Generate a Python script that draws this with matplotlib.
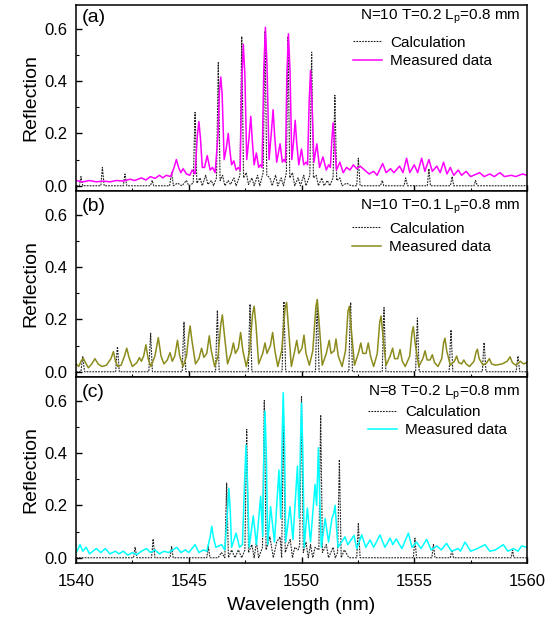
import matplotlib
matplotlib.use("Agg")
import matplotlib.pyplot as plt
from matplotlib.ticker import MultipleLocator, FormatStrFormatter

plt.rcParams['font.family'] = ['Liberation Sans', 'DejaVu Sans']
plt.rcParams['mathtext.fontset'] = 'custom'
plt.rcParams['mathtext.rm'] = 'Liberation Sans'
plt.rcParams['mathtext.it'] = 'Liberation Sans'

# ---------------- data ----------------
# Panel (a): N=10 T=0.2
a_meas_wl = [1540.0, 1540.3, 1540.6, 1540.9, 1541.2, 1541.5, 1541.8, 1542.1, 1542.4, 1542.6, 1542.9, 1543.1,
             1543.3, 1543.5, 1543.7, 1543.85, 1544.0, 1544.2, 1544.35, 1544.45, 1544.55, 1544.65, 1544.75,
             1544.9, 1545.05, 1545.15, 1545.28, 1545.38, 1545.45, 1545.52, 1545.6, 1545.7, 1545.82, 1545.95,
             1546.05, 1546.17, 1546.3, 1546.36, 1546.42, 1546.48, 1546.57, 1546.66, 1546.75, 1546.83, 1546.9,
             1547.0, 1547.1, 1547.2, 1547.28, 1547.35, 1547.42, 1547.49, 1547.57, 1547.67, 1547.75, 1547.82,
             1547.9, 1548.0, 1548.1, 1548.18, 1548.25, 1548.33, 1548.4, 1548.47, 1548.56, 1548.66, 1548.74,
             1548.81, 1548.9, 1549.05, 1549.15, 1549.22, 1549.29, 1549.35, 1549.42, 1549.49, 1549.57, 1549.65,
             1549.72, 1549.79, 1549.88, 1550.0, 1550.1, 1550.2, 1550.27, 1550.34, 1550.4, 1550.46, 1550.55,
             1550.68, 1550.8, 1550.95, 1551.1, 1551.2, 1551.28, 1551.35, 1551.4, 1551.46, 1551.55, 1551.7,
             1551.85, 1552.0, 1552.15, 1552.3, 1552.45, 1552.6, 1552.8, 1553.0, 1553.2, 1553.35, 1553.6,
             1553.75, 1553.95, 1554.1, 1554.35, 1554.5, 1554.66, 1554.8, 1555.0, 1555.15, 1555.33, 1555.47,
             1555.65, 1555.8, 1556.0, 1556.15, 1556.3, 1556.45, 1556.6, 1556.75, 1556.95, 1557.1, 1557.3,
             1557.5, 1557.9, 1558.1, 1558.35, 1558.55, 1558.8, 1559.0, 1559.3, 1559.5, 1559.8, 1560.0]
a_meas_R = [0.02, 0.015, 0.02, 0.015, 0.018, 0.015, 0.02, 0.018, 0.025, 0.02, 0.03, 0.022,
            0.035, 0.028, 0.04, 0.03, 0.04, 0.035, 0.07, 0.10, 0.07, 0.05, 0.065,
            0.045, 0.04, 0.06, 0.045, 0.19, 0.245, 0.18, 0.07, 0.07, 0.115, 0.06,
            0.07, 0.05, 0.20, 0.36, 0.415, 0.35, 0.10, 0.14, 0.20, 0.13, 0.08,
            0.095, 0.06, 0.07, 0.06, 0.40, 0.54, 0.42, 0.10, 0.18, 0.265, 0.17,
            0.08, 0.125, 0.07, 0.08, 0.07, 0.45, 0.605, 0.46, 0.10, 0.20, 0.29,
            0.19, 0.09, 0.16, 0.09, 0.10, 0.09, 0.42, 0.58, 0.44, 0.10, 0.17,
            0.25, 0.16, 0.08, 0.14, 0.08, 0.09, 0.08, 0.32, 0.44, 0.33, 0.09,
            0.16, 0.07, 0.11, 0.06, 0.08, 0.07, 0.18, 0.24, 0.17, 0.06, 0.09,
            0.05, 0.07, 0.06, 0.08, 0.065, 0.075, 0.06, 0.045, 0.055, 0.04, 0.085,
            0.05, 0.065, 0.05, 0.075, 0.05, 0.105, 0.05, 0.08, 0.05, 0.105, 0.055,
            0.10, 0.055, 0.075, 0.05, 0.09, 0.045, 0.07, 0.04, 0.06, 0.04, 0.055,
            0.035, 0.05, 0.035, 0.045, 0.035, 0.05, 0.035, 0.04, 0.035, 0.045, 0.04]

a_calc_wl = [1540.0, 1540.15, 1540.22, 1540.3, 1541.1, 1541.17, 1541.25, 1542.1, 1542.17, 1542.25,
             1543.3, 1543.38, 1543.45, 1544.15, 1544.24, 1544.32, 1544.5, 1544.7, 1544.9, 1545.0,
             1545.2, 1545.28, 1545.36, 1545.5, 1545.6, 1545.75, 1545.85, 1546.0, 1546.1, 1546.23,
             1546.31, 1546.39, 1546.5, 1546.6, 1546.75, 1546.85, 1547.0, 1547.1, 1547.27, 1547.35,
             1547.43, 1547.55, 1547.65, 1547.8, 1547.9, 1548.05, 1548.15, 1548.3, 1548.38, 1548.46,
             1548.6, 1548.7, 1548.85, 1548.95, 1549.1, 1549.2, 1549.33, 1549.4, 1549.48, 1549.6,
             1549.7, 1549.85, 1549.95, 1550.1, 1550.2, 1550.37, 1550.45, 1550.53, 1550.65, 1550.75,
             1550.9, 1551.0, 1551.15, 1551.25, 1551.4, 1551.48, 1551.56, 1551.7, 1551.8, 1552.0,
             1552.2, 1552.45, 1552.52, 1552.6, 1553.5, 1553.58, 1553.65, 1554.55, 1554.62, 1554.7,
             1555.58, 1555.65, 1555.72, 1556.6, 1556.68, 1556.75, 1557.65, 1557.72, 1557.8, 1560.0]
a_calc_R = [0.0, 0.0, 0.035, 0.0, 0.0, 0.07, 0.0, 0.0, 0.045, 0.0,
            0.0, 0.02, 0.0, 0.0, 0.05, 0.0, 0.01, 0.0, 0.02, 0.0,
            0.01, 0.28, 0.01, 0.03, 0.0, 0.04, 0.005, 0.02, 0.0, 0.03,
            0.47, 0.02, 0.04, 0.0, 0.02, 0.005, 0.03, 0.0, 0.04, 0.57,
            0.03, 0.05, 0.005, 0.03, 0.0, 0.04, 0.0, 0.05, 0.59, 0.04,
            0.03, 0.0, 0.04, 0.0, 0.03, 0.0, 0.05, 0.57, 0.03, 0.05,
            0.0, 0.03, 0.0, 0.04, 0.0, 0.04, 0.51, 0.03, 0.04, 0.0,
            0.03, 0.0, 0.02, 0.0, 0.03, 0.345, 0.02, 0.03, 0.0, 0.01,
            0.0, 0.0, 0.105, 0.0, 0.0, 0.02, 0.0, 0.0, 0.03, 0.0,
            0.0, 0.065, 0.0, 0.0, 0.035, 0.0, 0.0, 0.02, 0.0, 0.0]

# Panel (b): N=10 T=0.1
b_meas_wl = [1540.0, 1540.12, 1540.22, 1540.32, 1540.42, 1540.55, 1540.7, 1540.84, 1540.98, 1541.15,
             1541.35, 1541.55, 1541.66, 1541.75, 1541.85, 1542.0, 1542.15, 1542.25, 1542.35, 1542.5,
             1542.7, 1542.81, 1542.9, 1543.0, 1543.1, 1543.2, 1543.32, 1543.5, 1543.65, 1543.77,
             1543.9, 1544.05, 1544.17, 1544.27, 1544.38, 1544.5, 1544.6, 1544.75, 1544.9, 1545.0,
             1545.06, 1545.14, 1545.3, 1545.45, 1545.57, 1545.67, 1545.8, 1545.91, 1546.0, 1546.15,
             1546.3, 1546.42, 1546.49, 1546.57, 1546.72, 1546.88, 1546.98, 1547.07, 1547.2, 1547.3,
             1547.4, 1547.55, 1547.7, 1547.83, 1547.9, 1547.98, 1548.1, 1548.28, 1548.38, 1548.47,
             1548.62, 1548.72, 1548.82, 1548.95, 1549.12, 1549.27, 1549.34, 1549.42, 1549.55, 1549.7,
             1549.79, 1549.88, 1550.02, 1550.11, 1550.2, 1550.35, 1550.5, 1550.64, 1550.7, 1550.77,
             1550.92, 1551.1, 1551.23, 1551.31, 1551.45, 1551.53, 1551.63, 1551.8, 1551.95, 1552.06,
             1552.12, 1552.2, 1552.35, 1552.52, 1552.63, 1552.72, 1552.86, 1552.96, 1553.06, 1553.2,
             1553.36, 1553.47, 1553.53, 1553.61, 1553.75, 1553.93, 1554.04, 1554.13, 1554.27, 1554.37,
             1554.47, 1554.6, 1554.8, 1554.9, 1554.96, 1555.04, 1555.2, 1555.38, 1555.48, 1555.57,
             1555.7, 1555.8, 1555.9, 1556.05, 1556.22, 1556.3, 1556.36, 1556.44, 1556.6, 1556.78,
             1556.88, 1556.97, 1557.1, 1557.2, 1557.3, 1557.45, 1557.65, 1557.74, 1557.8, 1557.88,
             1558.05, 1558.22, 1558.33, 1558.43, 1558.6, 1558.9, 1559.12, 1559.25, 1559.35, 1559.5,
             1559.7, 1559.85, 1560.0]
b_meas_R = [0.03, 0.02, 0.04, 0.052, 0.035, 0.015, 0.03, 0.05, 0.03, 0.02,
            0.025, 0.05, 0.077, 0.04, 0.02, 0.025, 0.06, 0.09, 0.055, 0.02,
            0.035, 0.054, 0.04, 0.06, 0.103, 0.05, 0.02, 0.06, 0.13, 0.06,
            0.03, 0.045, 0.073, 0.04, 0.06, 0.12, 0.06, 0.02, 0.06, 0.14,
            0.175, 0.12, 0.03, 0.05, 0.09, 0.055, 0.07, 0.137, 0.08, 0.02,
            0.06, 0.18, 0.217, 0.15, 0.03, 0.07, 0.11, 0.07, 0.09, 0.15,
            0.08, 0.02, 0.08, 0.22, 0.25, 0.18, 0.03, 0.07, 0.11, 0.07,
            0.10, 0.15, 0.08, 0.02, 0.08, 0.24, 0.265, 0.17, 0.02, 0.08,
            0.12, 0.07, 0.09, 0.14, 0.07, 0.025, 0.08, 0.25, 0.275, 0.20,
            0.025, 0.07, 0.12, 0.07, 0.08, 0.125, 0.06, 0.02, 0.08, 0.23,
            0.25, 0.17, 0.025, 0.07, 0.11, 0.07, 0.07, 0.11, 0.06, 0.02,
            0.07, 0.19, 0.213, 0.14, 0.025, 0.06, 0.09, 0.05, 0.05, 0.085,
            0.04, 0.02, 0.06, 0.15, 0.172, 0.11, 0.02, 0.05, 0.08, 0.045,
            0.045, 0.065, 0.035, 0.02, 0.05, 0.11, 0.128, 0.08, 0.025, 0.04,
            0.06, 0.035, 0.03, 0.045, 0.03, 0.02, 0.04, 0.075, 0.086, 0.05,
            0.025, 0.035, 0.05, 0.03, 0.025, 0.03, 0.04, 0.057, 0.035, 0.025,
            0.04, 0.03, 0.035]

b_calc_wl = [1540.0, 1540.22, 1540.27, 1540.3, 1540.33, 1540.38,
             1541.76, 1541.81, 1541.84, 1541.87, 1541.92,
             1543.23, 1543.28, 1543.31, 1543.34, 1543.39,
             1544.71, 1544.76, 1544.79, 1544.82, 1544.87,
             1546.19, 1546.24, 1546.27, 1546.3, 1546.35,
             1547.64, 1547.69, 1547.72, 1547.75, 1547.8,
             1549.14, 1549.19, 1549.22, 1549.25, 1549.3,
             1550.62, 1550.67, 1550.7, 1550.73, 1550.78,
             1552.1, 1552.15, 1552.18, 1552.21, 1552.26,
             1553.58, 1553.63, 1553.66, 1553.69, 1553.74,
             1555.06, 1555.11, 1555.14, 1555.17, 1555.22,
             1556.55, 1556.6, 1556.63, 1556.66, 1556.71,
             1558.02, 1558.07, 1558.1, 1558.13, 1558.18,
             1559.52, 1559.57, 1559.6, 1559.63, 1559.68, 1560.0]
b_calc_R = [0.0, 0.0, 0.04, 0.058, 0.035, 0.0,
            0.0, 0.07, 0.096, 0.06, 0.0,
            0.0, 0.10, 0.147, 0.09, 0.0,
            0.0, 0.13, 0.19, 0.11, 0.0,
            0.0, 0.16, 0.235, 0.14, 0.0,
            0.0, 0.18, 0.258, 0.15, 0.0,
            0.0, 0.19, 0.268, 0.16, 0.0,
            0.0, 0.19, 0.275, 0.16, 0.0,
            0.0, 0.19, 0.265, 0.16, 0.0,
            0.0, 0.17, 0.245, 0.15, 0.0,
            0.0, 0.14, 0.205, 0.12, 0.0,
            0.0, 0.11, 0.16, 0.10, 0.0,
            0.0, 0.08, 0.112, 0.07, 0.0,
            0.0, 0.04, 0.06, 0.035, 0.0, 0.0]

# Panel (c): N=8 T=0.2
c_meas_wl = [1540.0, 1540.18, 1540.3, 1540.45, 1540.6, 1540.9, 1541.1, 1541.3, 1541.5, 1541.75, 1541.9,
             1542.1, 1542.3, 1542.5, 1542.7, 1542.9, 1543.13, 1543.3, 1543.5, 1543.7, 1543.9, 1544.1,
             1544.3, 1544.47, 1544.65, 1544.85, 1545.0, 1545.28, 1545.45, 1545.65, 1545.8, 1545.95,
             1546.02, 1546.09, 1546.2, 1546.46, 1546.6, 1546.72, 1546.78, 1546.84, 1546.9, 1547.1,
             1547.25, 1547.38, 1547.48, 1547.54, 1547.6, 1547.68, 1547.86, 1548.0, 1548.19, 1548.28,
             1548.33, 1548.38, 1548.44, 1548.5, 1548.63, 1548.8, 1549.0, 1549.08, 1549.14, 1549.19,
             1549.25, 1549.3, 1549.49, 1549.62, 1549.82, 1549.9, 1549.95, 1550.0, 1550.06, 1550.12,
             1550.26, 1550.4, 1550.6, 1550.67, 1550.75, 1550.8, 1550.88, 1551.05, 1551.2, 1551.35,
             1551.43, 1551.49, 1551.55, 1551.62, 1551.93, 1552.05, 1552.33, 1552.45, 1552.67, 1552.85,
             1553.04, 1553.2, 1553.48, 1553.7, 1553.93, 1554.05, 1554.2, 1554.45, 1554.74, 1554.9,
             1555.1, 1555.3, 1555.55, 1555.75, 1556.0, 1556.2, 1556.43, 1556.65, 1556.95, 1557.05,
             1557.25, 1557.5, 1557.8, 1558.14, 1558.35, 1558.6, 1558.95, 1559.15, 1559.4, 1559.6,
             1559.76, 1560.0]
c_meas_R = [0.018, 0.05, 0.025, 0.04, 0.015, 0.035, 0.02, 0.035, 0.015, 0.025, 0.015,
            0.025, 0.01, 0.02, 0.012, 0.025, 0.035, 0.02, 0.03, 0.015, 0.025, 0.02,
            0.03, 0.04, 0.02, 0.03, 0.02, 0.05, 0.02, 0.03, 0.025, 0.08,
            0.12, 0.08, 0.04, 0.05, 0.03, 0.18, 0.265, 0.18, 0.04, 0.094,
            0.04, 0.05, 0.30, 0.43, 0.30, 0.04, 0.16, 0.05, 0.235, 0.08,
            0.40, 0.56, 0.40, 0.05, 0.195, 0.06, 0.335, 0.15, 0.45, 0.63,
            0.42, 0.06, 0.195, 0.07, 0.35, 0.15, 0.42, 0.59, 0.40, 0.04,
            0.19, 0.06, 0.28, 0.20, 0.42, 0.25, 0.04, 0.15, 0.06, 0.15,
            0.17, 0.20, 0.12, 0.04, 0.08, 0.05, 0.085, 0.035, 0.087, 0.04,
            0.068, 0.04, 0.087, 0.04, 0.075, 0.05, 0.072, 0.035, 0.094, 0.04,
            0.06, 0.035, 0.07, 0.03, 0.045, 0.03, 0.055, 0.025, 0.035, 0.025,
            0.06, 0.025, 0.035, 0.05, 0.025, 0.03, 0.05, 0.025, 0.035, 0.025,
            0.045, 0.04]

c_calc_wl = [1540.0, 1542.55, 1542.62, 1542.7, 1543.35, 1543.42, 1543.5, 1544.17, 1544.24, 1544.31,
             1545.8, 1545.87, 1545.94, 1546.3, 1546.45, 1546.6, 1546.68, 1546.76, 1546.9, 1547.05,
             1547.2, 1547.35, 1547.49, 1547.57, 1547.65, 1547.8, 1547.9, 1548.0, 1548.1, 1548.27,
             1548.35, 1548.43, 1548.6, 1548.75, 1548.9, 1549.05, 1549.12, 1549.2, 1549.28, 1549.4,
             1549.5, 1549.6, 1549.7, 1549.85, 1549.92, 1550.0, 1550.08, 1550.2, 1550.3, 1550.4,
             1550.5, 1550.6, 1550.77, 1550.85, 1550.93, 1551.1, 1551.2, 1551.4, 1551.5, 1551.6,
             1551.68, 1551.76, 1551.9, 1552.1, 1552.45, 1552.52, 1552.6, 1554.96, 1555.03, 1555.1,
             1555.78, 1555.85, 1555.92, 1556.6, 1556.67, 1556.74, 1559.3, 1559.36, 1559.42, 1560.0]
c_calc_R = [0.0, 0.0, 0.04, 0.0, 0.0, 0.072, 0.0, 0.0, 0.043, 0.0,
            0.0, 0.043, 0.0, 0.0, 0.02, 0.0, 0.285, 0.0, 0.03, 0.0,
            0.03, 0.0, 0.03, 0.49, 0.02, 0.05, 0.0, 0.06, 0.0, 0.04,
            0.60, 0.03, 0.08, 0.0, 0.06, 0.08, 0.0, 0.56, 0.02, 0.05,
            0.07, 0.0, 0.04, 0.03, 0.05, 0.615, 0.02, 0.06, 0.0, 0.05,
            0.0, 0.04, 0.03, 0.545, 0.02, 0.05, 0.0, 0.04, 0.0, 0.02,
            0.375, 0.0, 0.03, 0.0, 0.0, 0.13, 0.0, 0.0, 0.075, 0.0,
            0.0, 0.05, 0.0, 0.0, 0.03, 0.0, 0.0, 0.03, 0.0, 0.0]

titles = ["N=10 T=0.2 L$_\\mathregular{p}$=0.8 mm",
          "N=10 T=0.1 L$_\\mathregular{p}$=0.8 mm",
          "N=8 T=0.2 L$_\\mathregular{p}$=0.8 mm"]
panel_labels = ["(a)", "(b)", "(c)"]
meas_colors = ["#FF00FF", "#8C8C1E", "#00FFFF"]

calc = [(a_calc_wl, a_calc_R), (b_calc_wl, b_calc_R), (c_calc_wl, c_calc_R)]
meas = [(a_meas_wl, a_meas_R), (b_meas_wl, b_meas_R), (c_meas_wl, c_meas_R)]

fig = plt.figure(figsize=(5.45, 6.22), dpi=100)
left, right = 76 / 545, 527 / 545
top_px, bot_px = 5, 563
ph = (bot_px - top_px) / 3
axes = []
for i in range(3):
    y0 = 1 - (top_px + ph * (i + 1)) / 622
    ax = fig.add_axes([left, y0, right - left, ph / 622])
    axes.append(ax)

title_y = [0.935, 0.914, 0.914]
legend_y = [0.835, 0.835, 0.85]
legend_x = [0.615, 0.613, 0.648]
for i, ax in enumerate(axes):
    cw, cr = calc[i]
    mw, mr = meas[i]
    ax.plot(cw, cr, color='#222222', lw=0.8, linestyle=(0, (1.6, 1.0)), label='Calculation')
    ax.plot(mw, mr, color=meas_colors[i], lw=1.1, label='Measured data')
    ax.set_xlim(1540, 1560)
    ax.set_ylim(-0.02, 0.69)
    ax.yaxis.set_major_locator(MultipleLocator(0.2))
    ax.yaxis.set_minor_locator(MultipleLocator(0.1))
    ax.xaxis.set_major_locator(MultipleLocator(5))
    ax.xaxis.set_minor_locator(MultipleLocator(2.5))
    ax.yaxis.set_major_formatter(FormatStrFormatter('%.1f'))
    ax.tick_params(which='major', direction='in', length=4, width=1, labelsize=12)
    ax.tick_params(which='minor', direction='in', length=2.5, width=0.8)
    ax.tick_params(axis='y', which='major', pad=6)
    ax.tick_params(axis='x', which='major', pad=8)
    for s in ax.spines.values():
        s.set_linewidth(1.1)
    ax.set_ylabel('Reflection', fontsize=14, labelpad=4)
    if i < 2:
        ax.tick_params(labelbottom=False)
    ax.text(0.012, title_y[i], panel_labels[i], transform=ax.transAxes, fontsize=14,
            va='center', ha='left')
    ax.text(0.985, title_y[i], titles[i], transform=ax.transAxes, fontsize=11,
            va='center', ha='right')
    ax.legend(loc='upper left', bbox_to_anchor=(legend_x[i], legend_y[i]), frameon=False,
              fontsize=11, handlelength=1.9, handletextpad=0.5, labelspacing=0.3,
              borderpad=0, borderaxespad=0)

axes[2].set_xlabel('Wavelength (nm)', fontsize=14, labelpad=6)

fig.savefig('out.png', dpi=100)
